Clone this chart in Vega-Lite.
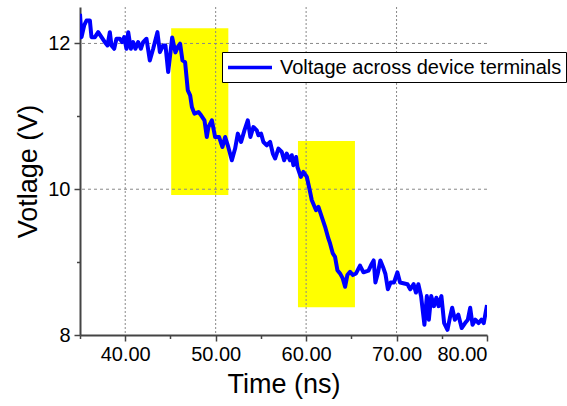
{
  "$schema": "https://vega.github.io/schema/vega-lite/v6.json",
  "autosize": {"type": "none"},
  "padding": {"left": 80, "top": 7, "right": 80, "bottom": 71},
  "width": 407,
  "height": 328,
  "background": "white",
  "config": {
    "view": {"stroke": null},
    "font": "Liberation Sans",
    "axis": {
      "labelFont": "Liberation Sans",
      "titleFont": "Liberation Sans",
      "labelColor": "black",
      "titleColor": "black",
      "titleFontWeight": "normal",
      "domainColor": "#444444",
      "domainWidth": 2,
      "tickColor": "#444444",
      "tickWidth": 1.5,
      "grid": false
    }
  },
  "datasets": {
    "volt": [
      {"t": 35.00, "v": 12.407}, {"t": 35.17, "v": 12.086}, {"t": 35.46, "v": 12.247}, {"t": 35.72, "v": 12.315},
      {"t": 36.09, "v": 12.315}, {"t": 36.27, "v": 12.086}, {"t": 36.65, "v": 12.086}, {"t": 37.01, "v": 12.155},
      {"t": 37.38, "v": 12.086}, {"t": 37.75, "v": 12.018}, {"t": 38.04, "v": 11.973}, {"t": 38.30, "v": 12.155},
      {"t": 38.48, "v": 11.973}, {"t": 38.78, "v": 11.927}, {"t": 39.03, "v": 12.064}, {"t": 39.41, "v": 12.064},
      {"t": 39.66, "v": 12.018}, {"t": 39.88, "v": 12.086}, {"t": 40.14, "v": 11.927}, {"t": 40.33, "v": 12.155},
      {"t": 40.62, "v": 11.927}, {"t": 40.88, "v": 12.018}, {"t": 41.13, "v": 11.927}, {"t": 41.43, "v": 12.018},
      {"t": 41.73, "v": 11.927}, {"t": 41.98, "v": 12.018}, {"t": 42.35, "v": 12.064}, {"t": 42.72, "v": 11.767},
      {"t": 43.09, "v": 11.927}, {"t": 43.56, "v": 12.155}, {"t": 43.83, "v": 11.881}, {"t": 44.19, "v": 11.973},
      {"t": 44.45, "v": 11.973}, {"t": 44.75, "v": 11.607}, {"t": 45.19, "v": 12.082}, {"t": 45.55, "v": 11.877},
      {"t": 45.85, "v": 11.959}, {"t": 46.07, "v": 11.996}, {"t": 46.33, "v": 11.767}, {"t": 46.62, "v": 11.744},
      {"t": 46.92, "v": 11.356}, {"t": 47.18, "v": 11.288}, {"t": 47.37, "v": 11.127}, {"t": 47.65, "v": 11.037},
      {"t": 48.10, "v": 11.059}, {"t": 48.39, "v": 11.014}, {"t": 48.76, "v": 10.945}, {"t": 49.02, "v": 10.716},
      {"t": 49.20, "v": 10.853}, {"t": 49.58, "v": 10.945}, {"t": 49.94, "v": 10.716}, {"t": 50.38, "v": 10.716},
      {"t": 50.75, "v": 10.579}, {"t": 51.05, "v": 10.716}, {"t": 51.34, "v": 10.603}, {"t": 51.79, "v": 10.397},
      {"t": 52.15, "v": 10.558}, {"t": 52.45, "v": 10.763}, {"t": 52.81, "v": 10.648}, {"t": 53.18, "v": 10.808},
      {"t": 53.55, "v": 10.945}, {"t": 53.84, "v": 10.716}, {"t": 54.17, "v": 10.853}, {"t": 54.55, "v": 10.808},
      {"t": 54.73, "v": 10.740}, {"t": 55.02, "v": 10.763}, {"t": 55.28, "v": 10.648}, {"t": 55.65, "v": 10.603},
      {"t": 56.02, "v": 10.648}, {"t": 56.32, "v": 10.489}, {"t": 56.57, "v": 10.421}, {"t": 56.94, "v": 10.558},
      {"t": 57.31, "v": 10.511}, {"t": 57.57, "v": 10.397}, {"t": 57.86, "v": 10.489}, {"t": 58.22, "v": 10.397},
      {"t": 58.42, "v": 10.466}, {"t": 58.59, "v": 10.329}, {"t": 58.89, "v": 10.442}, {"t": 59.04, "v": 10.305},
      {"t": 59.41, "v": 10.168}, {"t": 59.70, "v": 10.237}, {"t": 60.08, "v": 10.168}, {"t": 60.36, "v": 10.010},
      {"t": 60.63, "v": 9.849}, {"t": 61.10, "v": 9.712}, {"t": 61.36, "v": 9.758}, {"t": 61.73, "v": 9.621},
      {"t": 62.10, "v": 9.484}, {"t": 62.46, "v": 9.325}, {"t": 62.65, "v": 9.256}, {"t": 62.95, "v": 9.119},
      {"t": 63.20, "v": 9.073}, {"t": 63.46, "v": 8.890}, {"t": 63.75, "v": 8.845}, {"t": 64.05, "v": 8.777},
      {"t": 64.31, "v": 8.662}, {"t": 64.56, "v": 8.822}, {"t": 64.86, "v": 8.867}, {"t": 65.16, "v": 8.822},
      {"t": 65.52, "v": 8.845}, {"t": 65.96, "v": 8.953}, {"t": 66.34, "v": 8.860}, {"t": 66.90, "v": 8.884},
      {"t": 67.16, "v": 8.953}, {"t": 67.47, "v": 9.023}, {"t": 67.66, "v": 8.721}, {"t": 67.91, "v": 8.837},
      {"t": 68.21, "v": 9.023}, {"t": 68.51, "v": 8.930}, {"t": 68.77, "v": 8.837}, {"t": 69.04, "v": 8.627},
      {"t": 69.34, "v": 8.720}, {"t": 69.71, "v": 8.720}, {"t": 70.09, "v": 8.860}, {"t": 70.39, "v": 8.720},
      {"t": 71.21, "v": 8.697}, {"t": 71.51, "v": 8.627}, {"t": 71.89, "v": 8.697}, {"t": 72.14, "v": 8.582},
      {"t": 72.41, "v": 8.697}, {"t": 72.71, "v": 8.534}, {"t": 73.08, "v": 8.141}, {"t": 73.35, "v": 8.534},
      {"t": 73.57, "v": 8.210}, {"t": 73.83, "v": 8.534}, {"t": 74.13, "v": 8.396}, {"t": 74.40, "v": 8.512},
      {"t": 74.65, "v": 8.396}, {"t": 74.96, "v": 8.534}, {"t": 75.26, "v": 8.164}, {"t": 75.63, "v": 8.071},
      {"t": 75.89, "v": 8.233}, {"t": 76.15, "v": 8.373}, {"t": 76.45, "v": 8.210}, {"t": 76.83, "v": 8.279},
      {"t": 77.20, "v": 8.095}, {"t": 77.58, "v": 8.164}, {"t": 77.88, "v": 8.210}, {"t": 78.14, "v": 8.373},
      {"t": 78.40, "v": 8.141}, {"t": 78.71, "v": 8.210}, {"t": 79.07, "v": 8.164}, {"t": 79.38, "v": 8.210},
      {"t": 79.64, "v": 8.164}, {"t": 80.00, "v": 8.411}
    ],
    "boxes": [
      {"t1": 45.08, "t2": 51.4, "v1": 9.92, "v2": 12.21},
      {"t1": 59.1, "t2": 65.4, "v1": 8.38, "v2": 10.66}
    ],
    "vgrid": [{"t": 40}, {"t": 50}, {"t": 60}, {"t": 70}],
    "hgrid": [{"v": 10}, {"v": 12}]
  },
  "layer": [
    {
      "data": {"name": "boxes"},
      "mark": {"type": "rect", "color": "#ffff00"},
      "encoding": {
        "x": {"field": "t1", "type": "quantitative", "scale": {"domain": [35, 80], "nice": false, "zero": false}},
        "x2": {"field": "t2"},
        "y": {"field": "v1", "type": "quantitative", "scale": {"domain": [8, 12.5], "nice": false, "zero": false}},
        "y2": {"field": "v2"}
      }
    },
    {
      "data": {"name": "vgrid"},
      "mark": {"type": "rule", "color": "#888888", "strokeWidth": 1, "strokeDash": [2, 2]},
      "encoding": {"x": {"field": "t", "type": "quantitative"}}
    },
    {
      "data": {"name": "hgrid"},
      "mark": {"type": "rule", "color": "#888888", "strokeWidth": 1, "strokeDash": [3, 3]},
      "encoding": {"y": {"field": "v", "type": "quantitative"}}
    },
    {
      "data": {"name": "volt"},
      "transform": [{"calculate": "'Voltage across device terminals'", "as": "series"}],
      "mark": {"type": "line", "strokeWidth": 4, "strokeJoin": "round", "clip": true},
      "encoding": {
        "x": {
          "field": "t", "type": "quantitative",
          "axis": {
            "title": "Time (ns)",
            "values": [35, 40, 45, 50, 55, 60, 65, 70, 75, 80],
            "format": ".2f",
            "labelExpr": "datum.value % 10 === 0 ? datum.label : ''",
            "tickSize": {"condition": {"test": "datum.value % 10 === 0", "value": 6}, "value": 3.5},
            "labelFontSize": 20,
            "labelPadding": 3,
            "titleFontSize": 27,
            "titlePadding": 7
          }
        },
        "y": {
          "field": "v", "type": "quantitative",
          "axis": {
            "title": "Votlage (V)",
            "values": [8, 9, 10, 11, 12],
            "format": "d",
            "labelExpr": "datum.value % 2 === 0 ? datum.label : ''",
            "tickSize": {"condition": {"test": "datum.value % 2 === 0", "value": 6}, "value": 3.5},
            "labelFontSize": 20,
            "labelPadding": 4,
            "titleFontSize": 27,
            "titlePadding": 5
          }
        },
        "color": {
          "field": "series", "type": "nominal",
          "scale": {"range": ["#0000ff"]},
          "legend": {
            "title": null,
            "orient": "none",
            "legendX": 142,
            "legendY": 45,
            "strokeColor": "black",
            "fillColor": "white",
            "padding": 4,
            "symbolType": "M-1,0H3.63",
            "symbolSize": 361,
            "symbolStrokeWidth": 3.5,
            "labelFontSize": 20,
            "labelLimit": 0,
            "labelFont": "Liberation Sans",
            "labelColor": "black",
            "labelOffset": 31
          }
        }
      }
    }
  ]
}
